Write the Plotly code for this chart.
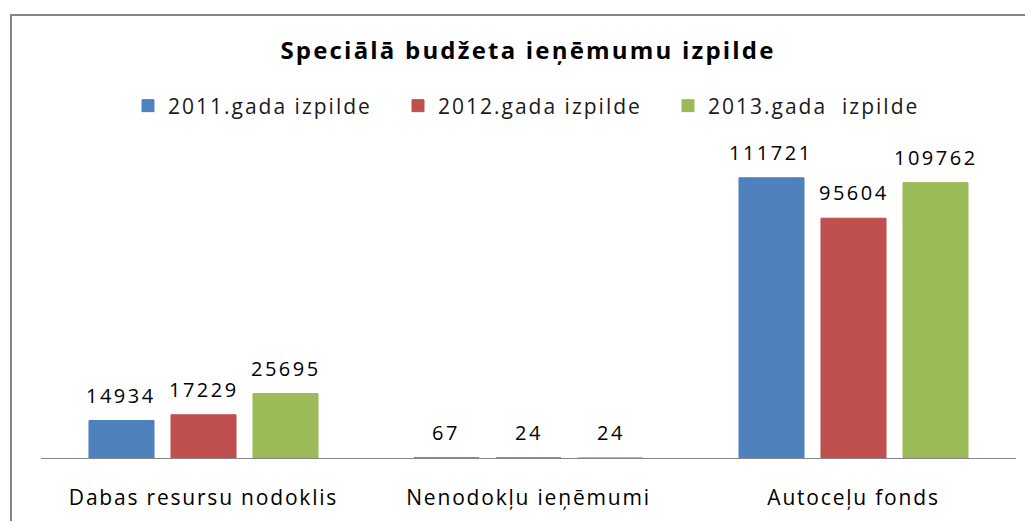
import plotly.graph_objects as go

categories = ["Dabas resursu nodoklis", "Nenodokļu ieņēmumi", "Autoceļu fonds"]
series_names = ["2011.gada izpilde", "2012.gada izpilde", "2013.gada  izpilde"]
values_2011 = [14934, 67, 111721]
values_2012 = [17229, 24, 95604]
values_2013 = [25695, 24, 109762]
colors = ["#4F81BD", "#C0504D", "#9BBB59"]
title_text = "Speciālā budžeta ieņēmumu izpilde"

FONT = "Open Sans"
# page body has an 8px margin, so the figure is drawn 8px smaller than the window
W, H = 1017, 513
L, R, T, B = 33, 9, 149, 63
pw, ph = W - L - R, H - T - B


def ls(text, px):
    return f"<span style='letter-spacing:{px}px'>{text}</span>"


fig = go.Figure()
all_series = [values_2011, values_2012, values_2013]
for name, vals, col in zip(series_names, all_series, colors):
    fig.add_trace(go.Bar(
        x=categories, y=vals, name=ls(name, 2.0),
        marker=dict(color=col, line=dict(color=col, width=1)),
    ))

bargap = 0.243
slot = (1 - bargap) / 3
cat_px = pw / len(categories)
annotations = []
for i, vals in enumerate(all_series):
    shift = (i - 1) * slot * cat_px
    for c, v in zip(categories, vals):
        annotations.append(dict(
            x=c, y=v, xref="x", yref="y", text=ls(str(v), 2.5),
            showarrow=False, xanchor="center", yanchor="bottom",
            xshift=shift, yshift=10,
            font=dict(family=FONT, size=20, color="#000000"),
        ))

def px2paper_x(px):
    return (px - L) / pw

def px2paper_y(py):
    return (H - B - py) / ph

shapes = [
    dict(type="line", xref="paper", yref="paper",
         x0=px2paper_x(3), x1=px2paper_x(3), y0=px2paper_y(H + 5), y1=px2paper_y(6.5),
         line=dict(color="#868686", width=2)),
    dict(type="line", xref="paper", yref="paper",
         x0=px2paper_x(2), x1=px2paper_x(W + 5), y0=px2paper_y(7), y1=px2paper_y(7),
         line=dict(color="#868686", width=2)),
]

fig.update_layout(
    width=W, height=H,
    margin=dict(l=L, r=R, t=T, b=B, autoexpand=False),
    paper_bgcolor="white", plot_bgcolor="white",
    barmode="group", bargap=bargap, bargroupgap=0.207,
    title=dict(text="<b>" + ls(title_text, 2.2) + "</b>", x=520 / W, xanchor="center",
               y=1 - 43 / H, yanchor="middle", yref="container",
               font=dict(family=FONT, size=24, color="#000000")),
    legend=dict(orientation="h", x=px2paper_x(525), xanchor="center",
                y=px2paper_y(98), yanchor="middle",
                font=dict(family=FONT, size=21, color="#1a1a1a"),
                entrywidth=225, itemwidth=30, traceorder="normal"),
    xaxis=dict(showline=True, linecolor="#868686", linewidth=1, showgrid=False,
               ticks="", tickfont=dict(family=FONT, size=21, color="#000000"),
               ticklabelstandoff=21, zeroline=False, tickangle=0, automargin=False),
    yaxis=dict(range=[0, 120000], visible=False, showgrid=False, zeroline=False,
               automargin=False),
    annotations=annotations,
    shapes=shapes,
    showlegend=True,
)
fig.update_xaxes(tickvals=categories, ticktext=[ls(c, 1.8) for c in categories])

fig.write_html("out.html")
